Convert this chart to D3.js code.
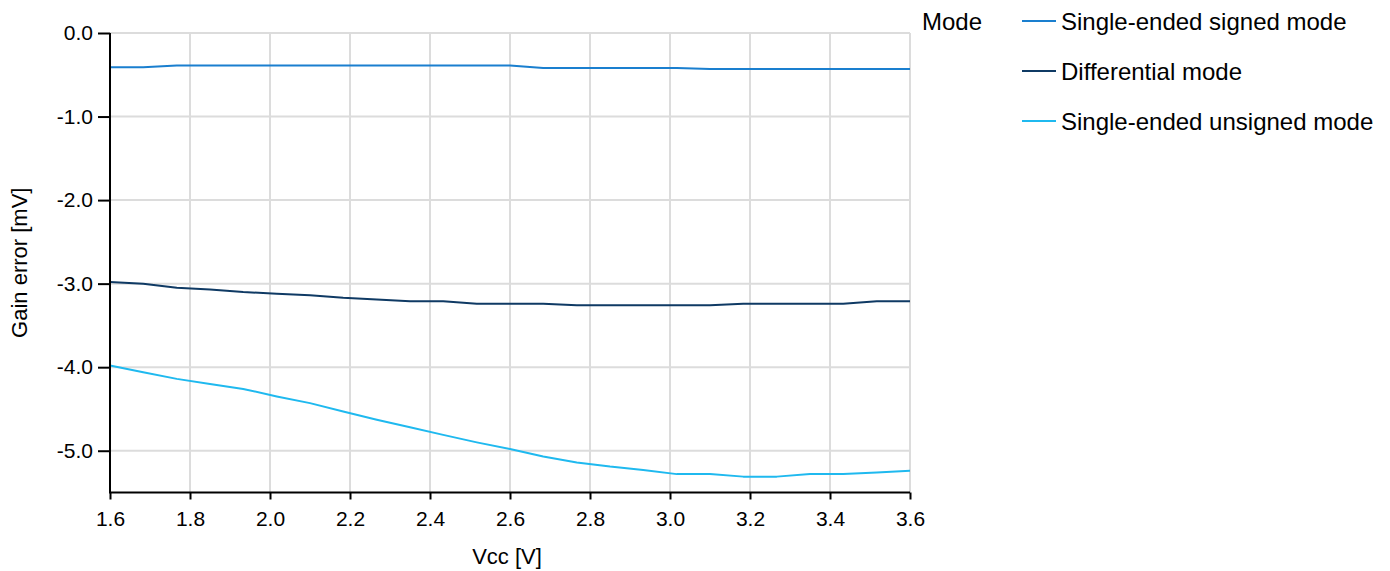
<!DOCTYPE html>
<html>
<head>
<meta charset="utf-8">
<script src="https://cdn.jsdelivr.net/npm/d3@7"></script>
<style>
  html, body { margin: 0; padding: 0; background: #fff; }
  svg { display: block; font-family: "Liberation Sans", Arial, sans-serif; }
</style>
</head>
<body>
<svg id="chart" width="1390" height="571"></svg>
<script>
// ---- data ----
const vcc = [1.6, 1.683, 1.767, 1.85, 1.933, 2.017, 2.1, 2.183, 2.267, 2.35, 2.433, 2.517, 2.6,
             2.683, 2.767, 2.85, 2.933, 3.017, 3.1, 3.183, 3.267, 3.35, 3.433, 3.517, 3.6];
const signedMode = [-0.41, -0.41, -0.39, -0.39, -0.39, -0.39, -0.39, -0.39, -0.39, -0.39, -0.39, -0.39, -0.39,
                    -0.42, -0.42, -0.42, -0.42, -0.42, -0.43, -0.43, -0.43, -0.43, -0.43, -0.43, -0.43];
const differentialMode = [-2.98, -3.00, -3.05, -3.07, -3.10, -3.12, -3.14, -3.17, -3.19, -3.21, -3.21, -3.24, -3.24,
                          -3.24, -3.26, -3.26, -3.26, -3.26, -3.26, -3.24, -3.24, -3.24, -3.24, -3.21, -3.21];
const unsignedMode = [-3.98, -4.06, -4.14, -4.20, -4.26, -4.35, -4.43, -4.53, -4.63, -4.72, -4.81, -4.90, -4.98,
                      -5.07, -5.14, -5.19, -5.23, -5.28, -5.28, -5.31, -5.31, -5.28, -5.28, -5.26, -5.24];
const seriesNames = ["Single-ended signed mode", "Differential mode", "Single-ended unsigned mode"];
const seriesColors = ["#1a7fcf", "#0f3a64", "#1fb9ef"];
const xTicks = [1.6, 1.8, 2.0, 2.2, 2.4, 2.6, 2.8, 3.0, 3.2, 3.4, 3.6];
const yTicks = [0, -1, -2, -3, -4, -5];
const xTitle = "Vcc [V]";
const yTitle = "Gain error [mV]";
const legendTitle = "Mode";

// ---- layout ----
const svg = d3.select("#chart");
const pL = 110, pR = 910, pT = 33, pB = 492.5;
const x = d3.scaleLinear().domain([1.6, 3.6]).range([pL, pR]);
const y = d3.scaleLinear().domain([-5.5, 0]).range([pB, pT]);
const fmt = d => d.toFixed(1);

// gridlines
const grid = svg.append("g");
grid.selectAll("line.v").data(xTicks).join("line").attr("class", "v")
  .attr("x1", d => x(d)).attr("x2", d => x(d))
  .attr("y1", pT).attr("y2", pB)
  .attr("stroke", "#dcdcdc").attr("stroke-width", 2);
grid.selectAll("line.h").data(yTicks).join("line").attr("class", "h")
  .attr("x1", pL).attr("x2", pR)
  .attr("y1", d => y(d)).attr("y2", d => y(d))
  .attr("stroke", "#dcdcdc").attr("stroke-width", 2);

// lines
const allSeries = [signedMode, differentialMode, unsignedMode];
const line = d3.line().x((d, i) => x(vcc[i])).y(d => y(d));
svg.append("g").selectAll("path").data(allSeries).join("path")
  .attr("d", d => line(d))
  .attr("fill", "none")
  .attr("stroke", (d, i) => seriesColors[i])
  .attr("stroke-width", 2)
  .attr("stroke-linejoin", "round");

// axes
const xAxis = svg.append("g").attr("transform", `translate(0,${pB})`)
  .call(d3.axisBottom(x).tickValues(xTicks).tickFormat(fmt)
    .tickSize(7).tickSizeOuter(0).tickPadding(12));
const yAxis = svg.append("g").attr("transform", `translate(${pL},0)`)
  .call(d3.axisLeft(y).tickValues(yTicks).tickFormat(fmt)
    .tickSize(12).tickSizeOuter(0).tickPadding(5));
[xAxis, yAxis].forEach(a => {
  a.selectAll("path, line").attr("stroke", "#000").attr("stroke-width", 2);
  a.selectAll("text").attr("fill", "#000").style("font-size", "21px")
    .style("font-family", "'Liberation Sans', Arial, sans-serif");
});
yAxis.select(".domain").attr("d", `M0,${y(0)}V${pB}`);
xAxis.select(".domain").attr("d", `M${pL - 1},0H${pR}`);

// axis titles
svg.append("text").attr("x", 507).attr("y", 564)
  .attr("text-anchor", "middle").style("font-size", "22px").text(xTitle);
svg.append("text").attr("transform", `translate(27,${(pT + pB) / 2}) rotate(-90)`)
  .attr("text-anchor", "middle").style("font-size", "22px").text(yTitle);

// legend
svg.append("text").attr("x", 922).attr("y", 30).style("font-size", "24px").text(legendTitle);
const leg = svg.append("g").selectAll("g").data(seriesNames).join("g")
  .attr("transform", (d, i) => `translate(1022,${21 + i * 50})`);
leg.append("line").attr("x1", 0).attr("x2", 34).attr("y1", 0).attr("y2", 0)
  .attr("stroke", (d, i) => seriesColors[i]).attr("stroke-width", 2);
leg.append("text").attr("x", 39).attr("y", 9).style("font-size", "24px").text(d => d);
</script>
</body>
</html>
